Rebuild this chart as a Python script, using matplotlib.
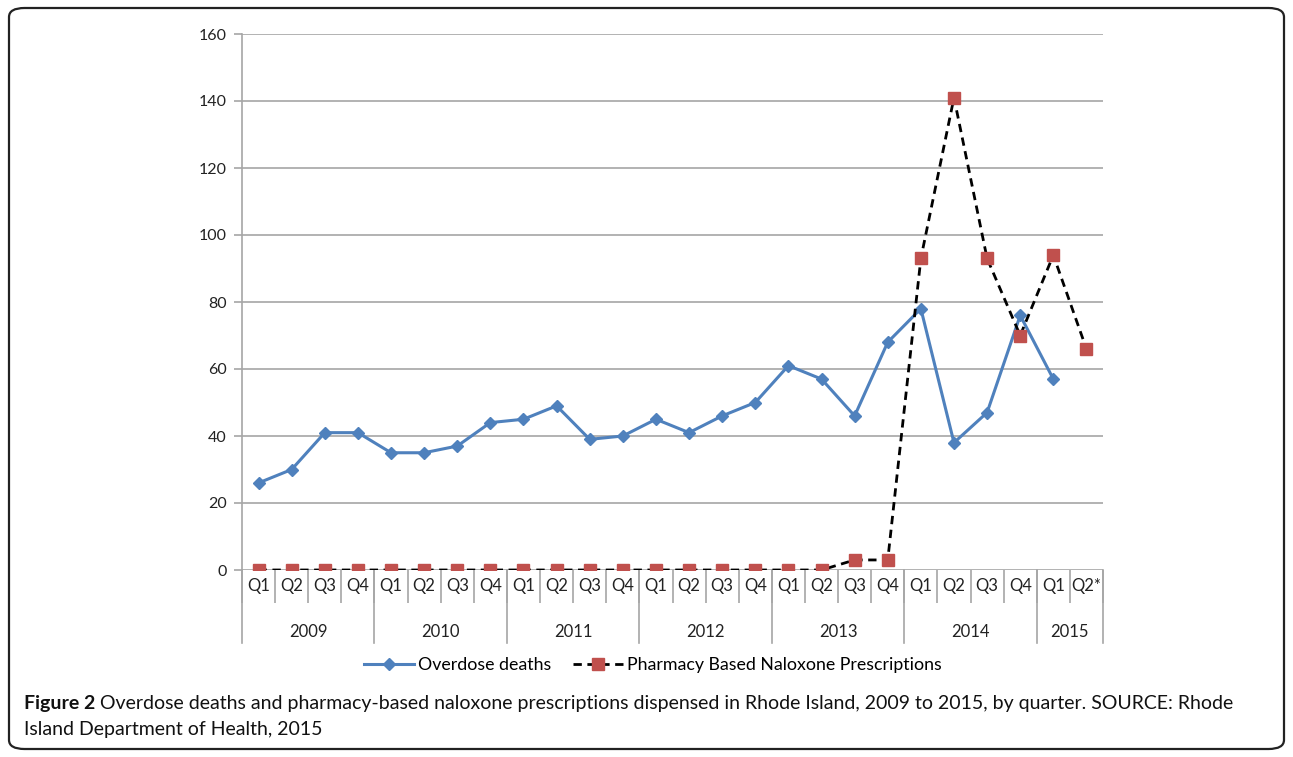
import matplotlib
matplotlib.use("Agg")
import matplotlib.pyplot as plt
import matplotlib.transforms as mtransforms
from matplotlib.patches import FancyBboxPatch
from matplotlib.lines import Line2D
import numpy as np

years = ["2009", "2010", "2011", "2012", "2013", "2014", "2015"]
quarters_per_year = [4, 4, 4, 4, 4, 4, 2]
quarter_labels = ["Q1", "Q2", "Q3", "Q4"] * 6 + ["Q1", "Q2*"]

overdose_deaths = [26, 30, 41, 41, 35, 35, 37, 44, 45, 49, 39, 40,
                   45, 41, 46, 50, 61, 57, 46, 68, 78, 38, 47, 76, 57, np.nan]
naloxone_rx = [0, 0, 0, 0, 0, 0, 0, 0, 0, 0, 0, 0,
               0, 0, 0, 0, 0, 0, 3, 3, 93, 141, 93, 70, 94, 66]

BLUE = "#4F81BD"
RED = "#C0504D"
GRID = "#A6A6A6"
CHART_FONT = "Lato"

plt.rcParams["font.family"] = CHART_FONT

fig = plt.figure(figsize=(12.93, 7.57), dpi=100)
ax = fig.add_axes([242 / 1293, 1 - 570 / 757, 861 / 1293, 536 / 757])

x = np.arange(len(quarter_labels))
ax.plot(x, overdose_deaths, color=BLUE, linewidth=2.2, marker="D",
        markersize=6, markerfacecolor=BLUE, markeredgecolor=BLUE,
        label="Overdose deaths", zorder=3)
ax.plot(x, naloxone_rx, color="black", linewidth=2, linestyle=(0, (3, 2)),
        marker="s", markersize=8.5, markerfacecolor=RED, markeredgecolor=RED,
        label="Pharmacy Based Naloxone Prescriptions", zorder=4)

ax.set_xlim(-0.5, len(x) - 0.5)
ax.set_ylim(0, 160)
ax.set_yticks(range(0, 161, 20))
ax.yaxis.grid(True, color=GRID, linewidth=1.2)
ax.set_axisbelow(True)
for s in ["top", "right", "bottom"]:
    ax.spines[s].set_visible(False)
ax.spines["left"].set_color(GRID)
ax.spines["left"].set_linewidth(1.2)
ax.tick_params(axis="y", length=6, color=GRID, width=1.2, labelsize=11.5,
               pad=5, labelcolor="#222222")

# quarter labels and separators
ax.set_xticks(x)
ax.set_xticklabels(quarter_labels, fontsize=12, color="#222222")
ax.tick_params(axis="x", which="major", length=0, pad=6)
ax.set_xticks(np.arange(-0.5, len(x), 1), minor=True)
ax.tick_params(axis="x", which="minor", length=24, color=GRID, width=1.2)

# year labels and separators
trans = mtransforms.blended_transform_factory(ax.transData, ax.transAxes)
bounds = np.concatenate([[0], np.cumsum(quarters_per_year)]) - 0.5
for i, yr in enumerate(years):
    mid = (bounds[i] + bounds[i + 1]) / 2
    ax.text(mid, -0.116, yr, transform=trans, ha="center", va="center",
            fontsize=12, color="#222222")
for b in bounds:
    ax.plot([b, b], [0, -0.137], transform=trans, color=GRID,
            linewidth=1.2, clip_on=False)

handles = [
    Line2D([], [], color=BLUE, linewidth=2.2, marker="D", markersize=6),
    Line2D([], [], color="black", linewidth=2, linestyle=(0, (3, 2)),
           marker="s", markersize=8.5, markerfacecolor=RED, markeredgecolor=RED),
]
fig.legend(handles, ["Overdose deaths", "Pharmacy Based Naloxone Prescriptions"],
           loc="center", bbox_to_anchor=(653 / 1293, 1 - 665 / 757), ncol=2,
           frameon=False, fontsize=12.8, handlelength=2.8, columnspacing=1.2,
           handletextpad=0.25)

# caption
cap = fig.text(24 / 1293, 1 - 704 / 757, "Figure 2", fontsize=14,
               fontweight="bold", va="center", ha="left", color="#111111")
ax.annotate(" Overdose deaths and pharmacy-based naloxone prescriptions dispensed "
            "in Rhode Island, 2009 to 2015, by quarter. SOURCE: Rhode",
            xy=(1, 0), xycoords=cap, ha="left", va="bottom",
            fontsize=14, color="#111111", annotation_clip=False)
fig.text(24 / 1293, 1 - 730 / 757, "Island Department of Health, 2015",
         fontsize=14, va="center", ha="left", color="#111111")

border = FancyBboxPatch((9 / 1293, 8 / 757), 1275 / 1293, 741 / 757,
                        boxstyle="round,pad=0,rounding_size=0.012",
                        transform=fig.transFigure, facecolor="none",
                        edgecolor="#222222", linewidth=1.6)
fig.patches.append(border)

fig.savefig("out.png", dpi=100)
